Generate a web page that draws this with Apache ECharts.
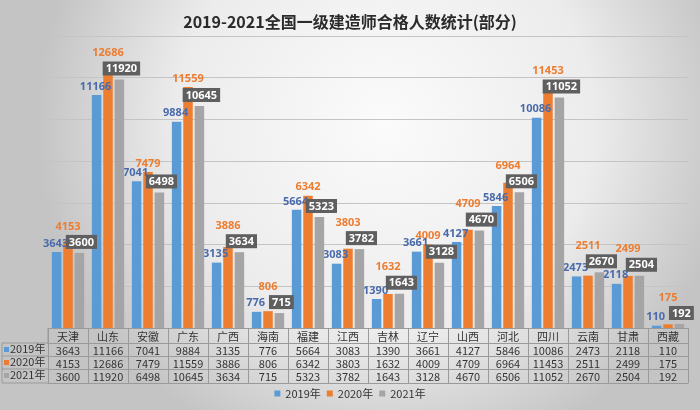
<!DOCTYPE html>
<html><head><meta charset="utf-8">
<script src="https://cdn.jsdelivr.net/npm/echarts@6/dist/echarts.min.js"></script>
<style>html,body{margin:0;padding:0;}#c{width:700px;height:410px;}</style>
</head><body><div id="c"></div>
<script>
const categories = ['天津','山东','安徽','广东','广西','海南','福建','江西','吉林','辽宁','山西','河北','四川','云南','甘肃','西藏'];
const seriesNames = ['2019年','2020年','2021年'];
const v2019 = [3643,11166,7041,9884,3135,776,5664,3083,1390,3661,4127,5846,10086,2473,2118,110];
const v2020 = [4153,12686,7479,11559,3886,806,6342,3803,1632,4009,4709,6964,11453,2511,2499,175];
const v2021 = [3600,11920,6498,10645,3634,715,5323,3782,1643,3128,4670,6506,11052,2670,2504,192];
const colors = ['#5B9BD5','#ED7D31','#A5A5A5'];
const lineColor = '#9a9a9a';

const GRID = {left:48, right:12, top:36, bottom:82};
const Y_MAX = 14000;
const plotH = 410 - GRID.top - GRID.bottom;
// height (px) a value occupies on the y scale, used only to lift 2020 labels clear of the 2021 boxes
const valPx = v => plotH * v / Y_MAX;

const chart = echarts.init(document.getElementById('c'), null, {renderer:'canvas'});
const rowVals = [v2019, v2020, v2021];
const rowAxes = [];
const offsets = [15, 28, 41];
for (let k = 0; k < 3; k++) {
  rowAxes.push({
    type:'category', data:categories, gridIndex:0, position:'bottom', offset:offsets[k],
    axisLine:{show:true, lineStyle:{color:lineColor, width:1}},
    axisTick:{show:false},
    axisLabel:{show:true, interval:0, margin:2, fontSize:11, color:'#333',
      fontFamily:'Noto Sans CJK SC', formatter:(v,i)=>String(rowVals[k][i])},
    splitLine:{show:false}
  });
}
rowAxes.push({
  type:'category', data:categories, gridIndex:0, position:'bottom', offset:55,
  axisLine:{show:true, lineStyle:{color:lineColor, width:1}},
  axisTick:{show:false}, axisLabel:{show:false}, splitLine:{show:false}
});

const rowHeaderY = [350, 363, 376];
const graphics = [];
for (let k = 0; k < 3; k++) {
  graphics.push({type:'rect', left:4, top:rowHeaderY[k]-3, shape:{width:5,height:5}, style:{fill:colors[k]}});
  graphics.push({type:'text', left:10, top:rowHeaderY[k]-7, style:{text:seriesNames[k], fill:'#333', font:'11px "Noto Sans CJK SC"'}});
}
[343,356,369,383].forEach(y=>graphics.push({type:'line', shape:{x1:2,y1:y,x2:48,y2:y}, style:{stroke:lineColor, lineWidth:1}}));
graphics.push({type:'line', shape:{x1:2,y1:343,x2:2,y2:383}, style:{stroke:lineColor, lineWidth:1}});
graphics.push({type:'line', shape:{x1:48,y1:328,x2:48,y2:343}, style:{stroke:lineColor, lineWidth:1}});

const LBL_FONT = '"Liberation Sans Narrow", "Noto Sans", sans-serif';
const labelCfg = [
  {show:true, position:'top', distance:3, offset:[-1,0], color:'#4a6bab', fontSize:11, fontWeight:'bold', fontFamily:LBL_FONT},
  {show:true, position:'top', distance:3, color:'#ED7D31', fontSize:11, fontWeight:'bold', fontFamily:LBL_FONT},
  {show:true, position:'top', distance:4, offset:[2,0], color:'#fff', fontSize:11, fontWeight:'bold', fontFamily:LBL_FONT,
   backgroundColor:'#5f5f5f', padding:[2,3,1,3]}
];

// 2020 label: default sits 3px above its bar; move up when the 2021 box (which sits ~4px above the 2021 bar, ~14px tall) is in the way
const data2020 = v2020.map((v,i)=>{
  const lift = Math.max(0, (valPx(v2021[i]) + 4 + 14 + 3) - (valPx(v) + 3));
  return {value:v, label:{offset:[0, -lift]}};
});

chart.setOption({
  backgroundColor:{type:'radial', x:0.55, y:0.3, r:0.85,
    colorStops:[{offset:0,color:'#fbfbfb'},{offset:0.6,color:'#ececec'},{offset:1,color:'#c4c4c4'}]},
  title:{text:'2019-2021全国一级建造师合格人数统计(部分)', left:'center', top:9,
    textStyle:{fontSize:16, fontWeight:'bold', color:'#2b2b2b', fontFamily:'Noto Sans CJK SC'}},
  grid:GRID,
  legend:{data:seriesNames, bottom:6, left:'center', icon:'rect', itemWidth:6, itemHeight:6, itemGap:6,
    textStyle:{fontSize:11, color:'#333', fontFamily:'Noto Sans CJK SC'}},
  xAxis:[{
    type:'category', data:categories, gridIndex:0, position:'bottom',
    axisLine:{show:true, lineStyle:{color:lineColor, width:1}},
    axisTick:{show:true, length:55, interval:0, lineStyle:{color:lineColor, width:1}},
    axisLabel:{show:true, interval:0, margin:3, fontSize:11, color:'#333', fontFamily:'Noto Sans CJK SC'},
    splitLine:{show:false}
  }].concat(rowAxes),
  yAxis:{type:'value', min:0, max:Y_MAX, interval:2000,
    axisLine:{show:false}, axisTick:{show:false}, axisLabel:{show:false},
    splitLine:{show:true, lineStyle:{color:'#c4c4c4', width:1}}},
  series:[
    {name:seriesNames[0], type:'bar', data:v2019, barWidth:9.5, barGap:'20%', itemStyle:{color:colors[0]}, label:labelCfg[0], z:4},
    {name:seriesNames[1], type:'bar', data:data2020, barWidth:9.5, barGap:'20%', itemStyle:{color:colors[1]}, label:labelCfg[1], z:3},
    {name:seriesNames[2], type:'bar', data:v2021, barWidth:9.5, barGap:'20%', itemStyle:{color:colors[2]}, label:labelCfg[2], z:5}
  ],
  graphic:graphics,
  animation:false
});
</script></body></html>
